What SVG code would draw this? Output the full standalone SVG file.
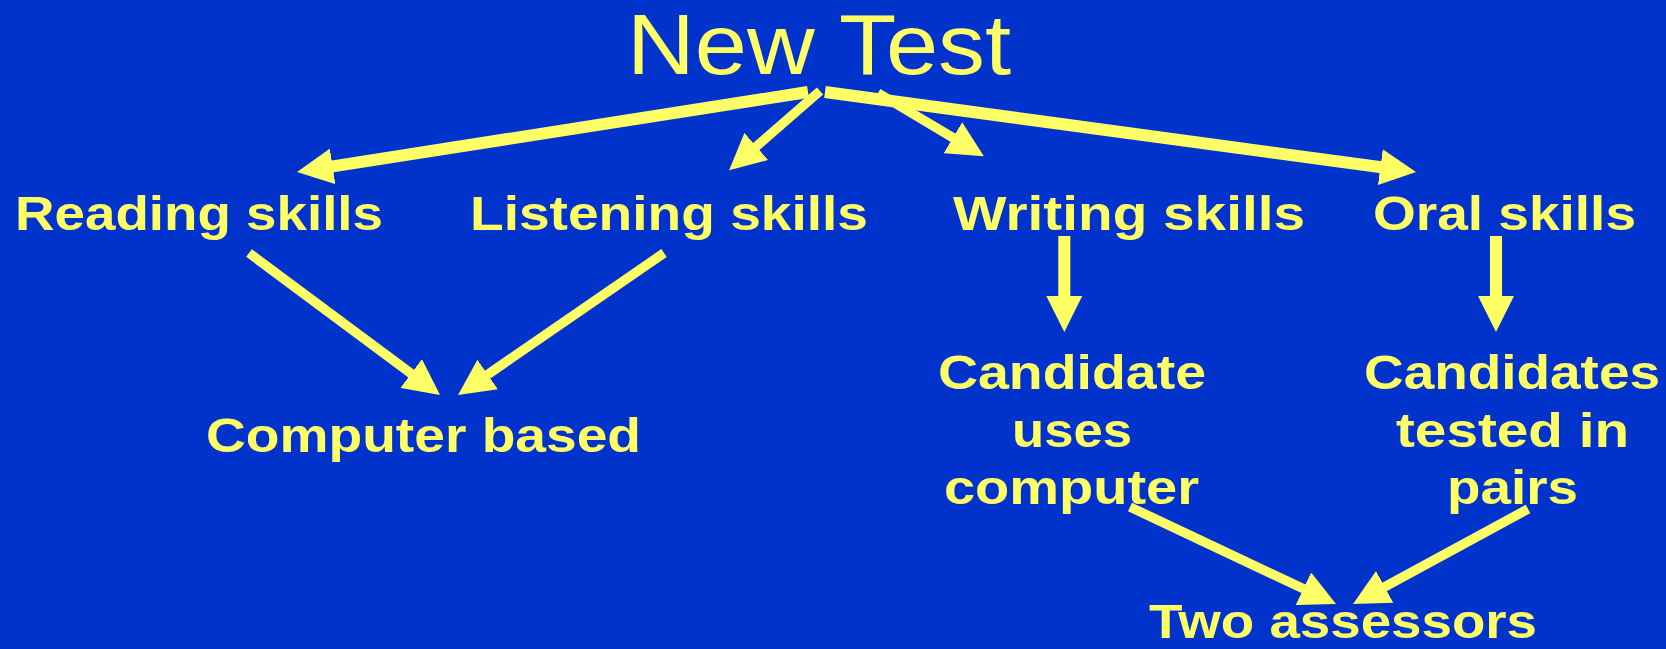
<svg xmlns="http://www.w3.org/2000/svg" width="1666" height="649" viewBox="0 0 1666 649">
  <style>
    .bg { fill: #0033CC; }
    .lbl { font-family: "Liberation Sans", Arial, sans-serif; font-weight: bold; font-size: 49px; fill: #FFFF66; }
    .title { font-family: "Liberation Sans", Arial, sans-serif; font-size: 85px; fill: #FFFF66; }
    .c { stroke: #FFFF66; fill: none; stroke-linecap: butt; marker-end: url(#ah); }
    .w12 { stroke-width: 12; }
    .w9 { stroke-width: 9.5; }
  </style>
  <defs>
    <marker id="ah" markerUnits="userSpaceOnUse" markerWidth="36" markerHeight="36" viewBox="0 0 36 36" refX="16" refY="18" orient="auto">
      <path d="M0,0 L36,18 L0,36 Z" fill="#FFFF66"/>
    </marker>
  </defs>
  <rect class="bg" x="0" y="0" width="1666" height="649"/>

  <g id="connectors">
    <line class="c w12" x1="808" y1="92" x2="316.8" y2="168.9"/>
    <line class="c w9" x1="820" y1="91" x2="744.2" y2="157"/>
    <line class="c w9" x1="878" y1="93" x2="966.7" y2="145.9"/>
    <line class="c w12" x1="825" y1="92" x2="1396.2" y2="169.3"/>
    <line class="c w9" x1="249" y1="253" x2="424" y2="383.1"/>
    <line class="c w9" x1="664" y1="253" x2="474.5" y2="383.6"/>
    <line class="c w12" x1="1064.3" y1="236" x2="1064.3" y2="312"/>
    <line class="c w12" x1="1496" y1="236" x2="1496" y2="312"/>
    <line class="c w9" x1="1130" y1="507" x2="1317.9" y2="595.5"/>
    <line class="c w9" x1="1528" y1="509" x2="1370.6" y2="594.5"/>
  </g>

  <g id="new-test">
    <text class="title" x="627" y="74" textLength="384" lengthAdjust="spacingAndGlyphs">New Test</text>
  </g>
  <g id="reading-skills">
    <text class="lbl" x="15" y="230" textLength="368" lengthAdjust="spacingAndGlyphs">Reading skills</text>
  </g>
  <g id="listening-skills">
    <text class="lbl" x="470" y="230" textLength="398" lengthAdjust="spacingAndGlyphs">Listening skills</text>
  </g>
  <g id="writing-skills">
    <text class="lbl" x="953" y="230" textLength="352" lengthAdjust="spacingAndGlyphs">Writing skills</text>
  </g>
  <g id="oral-skills">
    <text class="lbl" x="1373" y="230" textLength="263" lengthAdjust="spacingAndGlyphs">Oral skills</text>
  </g>
  <g id="computer-based">
    <text class="lbl" x="206" y="452" textLength="435" lengthAdjust="spacingAndGlyphs">Computer based</text>
  </g>
  <g id="candidate-uses-computer">
    <text class="lbl" x="938" y="389" textLength="268" lengthAdjust="spacingAndGlyphs">Candidate</text>
    <text class="lbl" x="1012" y="447" textLength="120" lengthAdjust="spacingAndGlyphs">uses</text>
    <text class="lbl" x="944" y="504" textLength="255" lengthAdjust="spacingAndGlyphs">computer</text>
  </g>
  <g id="candidates-tested-in-pairs">
    <text class="lbl" x="1364" y="389" textLength="296" lengthAdjust="spacingAndGlyphs">Candidates</text>
    <text class="lbl" x="1396" y="447" textLength="233" lengthAdjust="spacingAndGlyphs">tested in</text>
    <text class="lbl" x="1447" y="504" textLength="131" lengthAdjust="spacingAndGlyphs">pairs</text>
  </g>
  <g id="two-assessors">
    <text class="lbl" x="1149" y="638" textLength="388" lengthAdjust="spacingAndGlyphs">Two assessors</text>
  </g>
</svg>
